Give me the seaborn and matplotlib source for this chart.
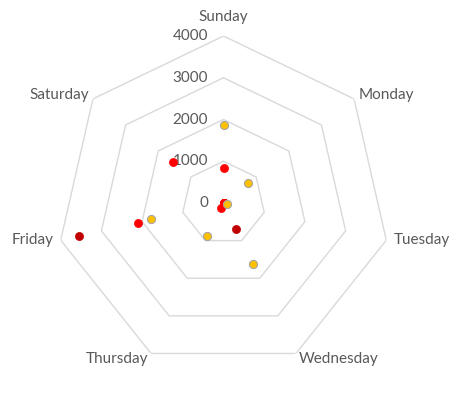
import numpy as np
import pandas as pd
import matplotlib
matplotlib.use("Agg")
import matplotlib.pyplot as plt
import seaborn as sns

days = ["Sunday", "Monday", "Tuesday", "Wednesday", "Thursday", "Friday", "Saturday"]
series_dark = [0, 0, 0, 690, 0, 3560, 0]
series_red = [850, 0, 0, 0, 120, 2110, 1560]
series_orange = [1880, 750, 80, 1630, 890, 1770, None]
levels = [0, 1000, 2000, 3000, 4000]

sns.set_style("white")
plt.rcParams["font.family"] = ["Lato", "DejaVu Sans"]

fig = plt.figure(figsize=(4.65, 3.94), dpi=100)
ax = fig.add_axes([0.1215, 0.0609, 0.7183, 0.8477], projection="polar")
ax.set_theta_zero_location("N")
ax.set_theta_direction(-1)
ax.set_ylim(0, 4000)
ax.grid(False)
ax.spines["polar"].set_visible(False)
ax.set_xticks([])
ax.set_yticks([])
ax.patch.set_alpha(0)

n = len(days)
theta = np.arange(n) * 2 * np.pi / n
theta_closed = np.append(theta, theta[0])

for lv in levels[1:]:
    ax.plot(theta_closed, [lv] * (n + 1), color="#D9D9D9", lw=1.0, zorder=1)

for lv in levels:
    ax.annotate(str(lv), xy=(0, lv), xytext=(-11, 0), textcoords="offset points",
                ha="right", va="center", fontsize=11, color="#595959")

label_r = 4000
offsets = {
    "Sunday": (0, 14, "center", "center"),
    "Monday": (3, 3, "left", "center"),
    "Tuesday": (5, 0, "left", "center"),
    "Wednesday": (2, -4, "left", "center"),
    "Thursday": (-2, -4, "right", "center"),
    "Friday": (-5, 0, "right", "center"),
    "Saturday": (-3, 3, "right", "center"),
}
for d, t in zip(days, theta):
    dx, dy, ha, va = offsets[d]
    ax.annotate(d, xy=(t, label_r), xytext=(dx, dy), textcoords="offset points",
                ha=ha, va=va, fontsize=11, color="#595959")

df = pd.DataFrame({"theta": theta, "dark": series_dark, "red": series_red,
                   "orange": pd.array(series_orange, dtype="Float64")}).astype(float)
sns.scatterplot(data=df, x="theta", y="dark", ax=ax, color="#C00000", s=34,
                edgecolor="#C00000", linewidth=0.5, zorder=3, legend=False)
sns.scatterplot(data=df, x="theta", y="red", ax=ax, color="#FF0000", s=34,
                edgecolor="#FF0000", linewidth=0.5, zorder=4, legend=False)
sns.scatterplot(data=df.dropna(), x="theta", y="orange", ax=ax, color="#FFC000", s=34,
                edgecolor="#A5A5A5", linewidth=0.8, zorder=5, legend=False)
ax.set_xlabel("")
ax.set_ylabel("")
ax.set_ylim(0, 4000)

fig.savefig("out.png", dpi=100)
